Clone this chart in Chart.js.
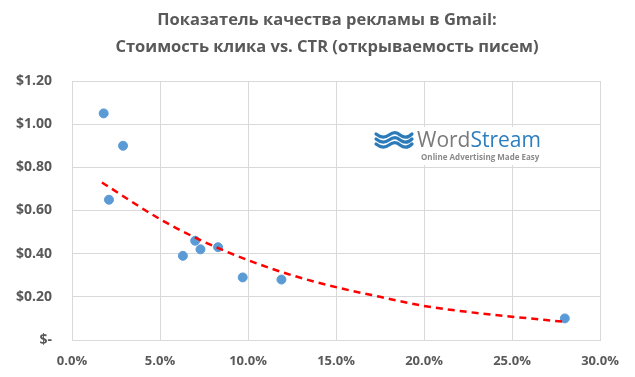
<!DOCTYPE html>
<html>
<head>
<meta charset="utf-8">
<script src="https://cdn.jsdelivr.net/npm/chart.js@4"></script>
<style>
html,body{margin:0;padding:0;background:#fff;}
#wrap{width:635px;height:377px;}
</style>
</head>
<body>
<div id="wrap"><canvas id="c" width="635" height="377"></canvas></div>
<script>
// Data
const titleLines = ["Показатель качества рекламы в Gmail:", "Стоимость клика vs. CTR (открываемость писем)"];
const ctrPercent = [1.8, 2.9, 2.1, 7.0, 7.3, 6.3, 8.3, 9.7, 11.9, 28.0];
const costPerClick = [1.05, 0.90, 0.65, 0.46, 0.42, 0.39, 0.43, 0.29, 0.28, 0.10];
const trendX = [1.7, 5, 7.5, 10, 12.5, 15, 17.5, 20, 22.5, 25, 27.9];
const trendY = [0.73, 0.56, 0.455, 0.37, 0.30, 0.245, 0.20, 0.158, 0.13, 0.108, 0.085];
const xTicks = [0, 5, 10, 15, 20, 25, 30];
const yTicks = [0, 0.2, 0.4, 0.6, 0.8, 1.0, 1.2];
const logoWord = "Word";
const logoStream = "Stream";
const logoTagline = "Online Advertising Made Easy";

const pts = ctrPercent.map((x, i) => ({x: x, y: costPerClick[i]}));
const trend = trendX.map((x, i) => ({x: x, y: trendY[i]}));

const FONT = "'Open Sans', 'Liberation Sans', sans-serif";
const GRAY = '#595959';
const GRID = '#d9d9d9';

const titlePlugin = {
  id: 'customTitle',
  afterDraw(chart) {
    const ctx = chart.ctx;
    ctx.save();
    ctx.fillStyle = GRAY;
    ctx.font = "bold 16.5px " + FONT;
    ctx.textAlign = 'center';
    ctx.textBaseline = 'middle';
    ctx.fillText(titleLines[0], 327, 20);
    ctx.fillText(titleLines[1], 327, 47);
    ctx.restore();
  }
};

const logoPlugin = {
  id: 'logo',
  afterDatasetsDraw(chart) {
    const ctx = chart.ctx;
    ctx.save();
    ctx.fillStyle = '#ffffff';
    ctx.fillRect(366, 127, 214, 38);
    // waves
    ctx.strokeStyle = '#2b7bbb';
    ctx.lineWidth = 3.2;
    ctx.lineCap = 'round';
    for (let i = 0; i < 3; i++) {
      const y0 = 135 + i * 5;
      ctx.beginPath();
      ctx.moveTo(376, y0 - 1);
      ctx.bezierCurveTo(381, y0 + 3, 385, y0 + 3, 389, y0);
      ctx.bezierCurveTo(393, y0 - 3, 397, y0 - 3, 400, y0);
      ctx.bezierCurveTo(404, y0 + 3, 408, y0 + 3, 412, y0 - 1);
      ctx.stroke();
    }
    ctx.textBaseline = 'alphabetic';
    ctx.textAlign = 'left';
    ctx.font = "21px " + FONT;
    ctx.fillStyle = '#7a7a7a';
    ctx.fillText(logoWord, 417, 147);
    const w = ctx.measureText(logoWord).width;
    ctx.fillStyle = '#2e7dbd';
    ctx.fillText(logoStream, 417 + w, 147);
    ctx.font = "bold 8px " + FONT;
    ctx.fillStyle = '#8a8a8a';
    ctx.fillText(logoTagline, 421, 160);
    ctx.restore();
  }
};

new Chart(document.getElementById('c'), {
  type: 'scatter',
  data: {
    datasets: [
      {
        label: 'Trend',
        type: 'line',
        data: trend,
        borderColor: '#ff0000',
        borderWidth: 2.5,
        borderDash: [7, 5],
        pointRadius: 0,
        fill: false,
        cubicInterpolationMode: 'monotone',
        order: 0
      },
      {
        label: 'CPC',
        data: pts,
        backgroundColor: '#5b9bd5',
        borderColor: '#5b9bd5',
        pointRadius: 4.5,
        pointHoverRadius: 4.5,
        order: 1
      }
    ]
  },
  options: {
    responsive: false,
    animation: false,
    events: [],
    layout: {padding: {left: 0, right: 35, top: 81, bottom: 6}},
    plugins: {
      legend: {display: false},
      tooltip: {enabled: false},
      title: {display: false}
    },
    scales: {
      x: {
        type: 'linear',
        min: 0, max: 30,
        afterBuildTicks(scale) { scale.ticks = xTicks.map(v => ({value: v})); },
        afterFit(scale) { scale.height = 31; },
        ticks: {
          color: GRAY,
          font: {family: FONT, size: 13, weight: 'bold'},
          padding: 13,
          maxRotation: 0,
          callback: v => v.toFixed(1) + '%'
        },
        grid: {color: GRID, lineWidth: 1, drawTicks: false},
        border: {color: GRID}
      },
      y: {
        type: 'linear',
        min: 0, max: 1.2,
        afterBuildTicks(scale) { scale.ticks = yTicks.map(v => ({value: v})); },
        afterFit(scale) { scale.width = 72; },
        ticks: {
          color: GRAY,
          font: {family: FONT, size: 14, weight: 'bold'},
          padding: 20,
          callback: v => v === 0 ? '$-' : '$' + v.toFixed(2)
        },
        grid: {color: GRID, lineWidth: 1, drawTicks: false},
        border: {color: GRID}
      }
    }
  },
  plugins: [titlePlugin, logoPlugin]
});
</script>
</body>
</html>
